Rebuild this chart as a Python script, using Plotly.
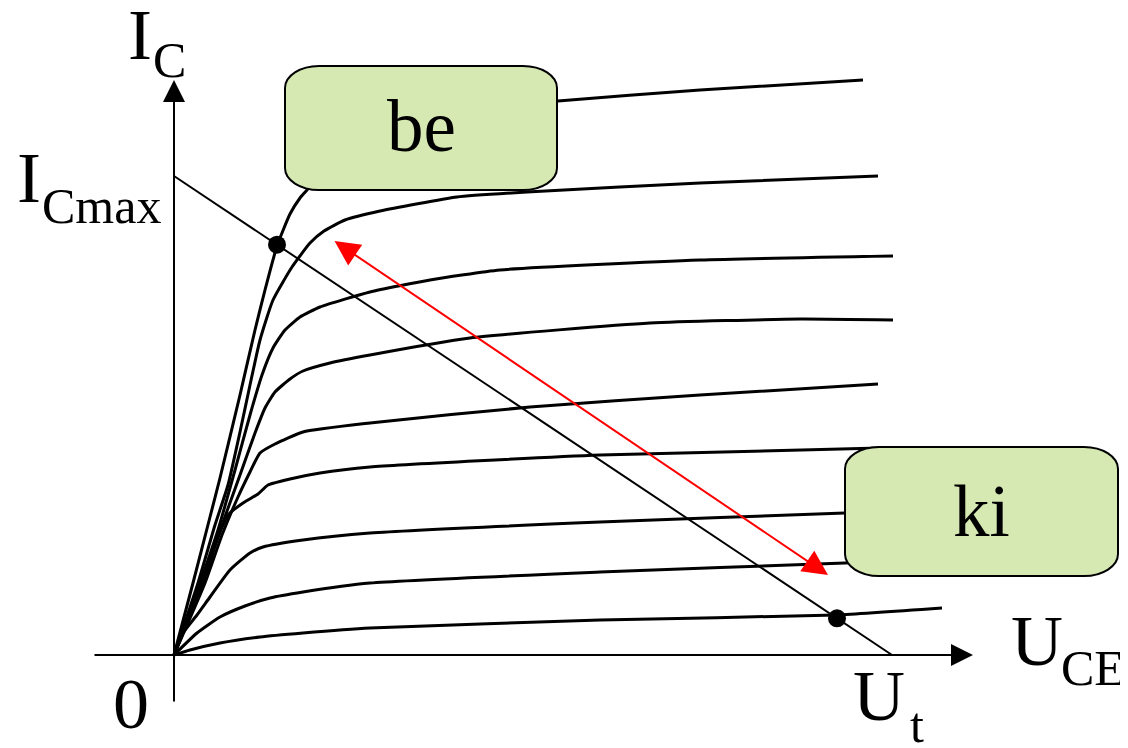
import plotly.graph_objects as go

# ---- data (U_CE, I_C in arbitrary units; origin at 0,0) ----
curve_A_u = [0, 19, 36, 46, 66, 81, 91, 103, 116, 126, 133, 156, 206, 276, 384, 526, 689]
curve_A_i = [0, 72, 138, 177, 260, 325, 365, 409, 441, 457, 465, 495, 525, 543, 554, 565, 575]
curve_B_u = [0, 24, 41, 54, 66, 76, 86, 99, 118, 136, 150, 171, 206, 283, 353, 526, 704]
curve_B_i = [0, 72, 130, 170, 223, 270, 315, 355, 388, 412, 424, 435, 444, 458, 463, 472, 479]
curve_C_u = [0, 26, 44, 61, 76, 88, 99, 111, 126, 146, 196, 256, 326, 526, 719]
curve_C_i = [0, 72, 125, 185, 240, 280, 307, 325, 338, 348, 363, 375, 385, 395, 399]
curve_D_u = [0, 29, 48, 66, 81, 91, 101, 116, 129, 156, 196, 296, 476, 626, 719]
curve_D_i = [0, 72, 130, 180, 222, 247, 263, 276, 284, 292, 300, 317, 332, 336, 335]
curve_E_u = [0, 31, 48, 64, 76, 86, 101, 129, 196, 356, 526, 704]
curve_E_i = [0, 72, 120, 158, 183, 202, 211, 223, 232, 248, 260, 271]
curve_F_u = [0, 26, 41, 54, 69, 84, 94, 116, 146, 196, 426, 706]
curve_F_i = [0, 65, 110, 140, 152, 161, 170, 176, 182, 188, 200, 207]
curve_G_u = [0, 9, 23, 36, 56, 76, 89, 129, 196, 426, 671, 726]
curve_G_i = [0, 22, 40, 58, 85, 102, 108, 115, 122, 133, 142, 145]
curve_H_u = [0, 23, 46, 71, 96, 129, 196, 426, 671, 726]
curve_H_i = [0, 22, 38, 49, 57, 63, 72, 83, 92, 94]
curve_I_u = [0, 16, 46, 86, 129, 196, 426, 662, 768]
curve_I_i = [0, 5, 12, 18, 22, 27, 35, 40, 47]

curves = [
    (curve_A_u, curve_A_i), (curve_B_u, curve_B_i), (curve_C_u, curve_C_i),
    (curve_D_u, curve_D_i), (curve_E_u, curve_E_i), (curve_F_u, curve_F_i),
    (curve_G_u, curve_G_i), (curve_H_u, curve_H_i), (curve_I_u, curve_I_i),
]

IC_max = 479          # load line intercept on I_C axis
U_t = 718             # load line intercept on U_CE axis
operating_u = [103, 663]   # marked points on the load line
swing_start = (159, 415)   # red double arrow (U, I)
swing_end = (654, 80)

be_box = dict(u0=111, u1=383, i0=465, i1=589)
ki_box = dict(u0=671, u1=944, i0=79, i1=208)

# ---- geometry helpers (page pixel -> data for layout placement) ----
OX, OY = 174, 655          # origin on the page
PAGE_W, PAGE_H = 1128, 748
BODY_MARGIN = 8            # default html body margin
W, H = PAGE_W - BODY_MARGIN, PAGE_H - BODY_MARGIN


def px(x):
    return x - OX


def py(y):
    return OY - y


FONT = "Liberation Serif, Times New Roman, serif"
BOX_FILL = "#D7E9B3"

fig = go.Figure()

for u, i in curves:
    fig.add_trace(go.Scatter(x=u, y=i, mode="lines",
                             line=dict(color="black", width=3, shape="spline", smoothing=0.5),
                             hoverinfo="skip", showlegend=False))

# load line
fig.add_trace(go.Scatter(x=[0, U_t], y=[IC_max, 0], mode="lines",
                         line=dict(color="black", width=2), showlegend=False, hoverinfo="skip"))
# operating points
op_i = [IC_max * (1 - u / U_t) for u in operating_u]
fig.add_trace(go.Scatter(x=operating_u, y=op_i, mode="markers",
                         marker=dict(color="black", size=18), showlegend=False, hoverinfo="skip"))


def rbox(u0, u1, i0, i1, rx=34, ry=22):
    k = 0.5523
    top, bot = i1, i0
    p = [f"M{u0+rx},{top}", f"L{u1-rx},{top}",
         f"C{u1-rx+k*rx},{top} {u1},{top-ry+k*ry} {u1},{top-ry}",
         f"L{u1},{bot+ry}",
         f"C{u1},{bot+ry-k*ry} {u1-rx+k*rx},{bot} {u1-rx},{bot}",
         f"L{u0+rx},{bot}",
         f"C{u0+rx-k*rx},{bot} {u0},{bot+ry-k*ry} {u0},{bot+ry}",
         f"L{u0},{top-ry}",
         f"C{u0},{top-ry+k*ry} {u0+rx-k*rx},{top} {u0+rx},{top}", "Z"]
    return " ".join(p)


shapes = []
for b in (be_box, ki_box):
    shapes.append(dict(type="path", xref="x", yref="y", layer="above",
                       path=rbox(b["u0"], b["u1"], b["i0"], b["i1"]),
                       fillcolor=BOX_FILL, line=dict(color="black", width=2)))

annotations = []
# axes with arrow heads
annotations.append(dict(x=0, y=py(80), ax=0, ay=py(703), xref="x", yref="y", axref="x", ayref="y",
                        text="", showarrow=True, arrowhead=2, arrowsize=2.2, arrowwidth=2,
                        arrowcolor="black", standoff=0))
annotations.append(dict(x=px(973), y=0, ax=px(93), ay=0, xref="x", yref="y", axref="x", ayref="y",
                        text="", showarrow=True, arrowhead=2, arrowsize=2.2, arrowwidth=2,
                        arrowcolor="black", standoff=0))
# red double arrow
annotations.append(dict(x=swing_end[0], y=swing_end[1], ax=swing_start[0], ay=swing_start[1],
                        xref="x", yref="y", axref="x", ayref="y", text="", showarrow=True,
                        arrowhead=2, arrowsize=2.5, startarrowhead=2, startarrowsize=2.5,
                        arrowside="end+start", arrowwidth=2, arrowcolor="red",
                        standoff=0, startstandoff=0))


def label(text, x, y, size, xanchor="center"):
    annotations.append(dict(x=px(x), y=py(y), xref="x", yref="y", text=text, showarrow=False,
                            xanchor=xanchor, yanchor="middle",
                            font=dict(family=FONT, size=size, color="black")))


label("I", 140, 35, 72)
label("C", 169, 60, 50)
label("I", 29, 178, 72)
label("Cmax", 101, 206, 50)
label("0", 131, 704, 72)
label("U", 879, 696, 72)
label("t", 917, 725, 50)
label("U", 1037, 641, 72)
label("CE", 1093, 668, 50)
label("be", 421, 126, 73)
label("ki", 981, 511, 73)

fig.update_layout(
    width=W, height=H,
    margin=dict(l=0, r=0, t=0, b=0),
    paper_bgcolor="white", plot_bgcolor="white",
    xaxis=dict(range=[px(BODY_MARGIN), px(PAGE_W)], visible=False, fixedrange=True),
    yaxis=dict(range=[py(PAGE_H), py(BODY_MARGIN)], visible=False, fixedrange=True),
    shapes=shapes, annotations=annotations,
    showlegend=False,
)

fig.write_html("out.html")
